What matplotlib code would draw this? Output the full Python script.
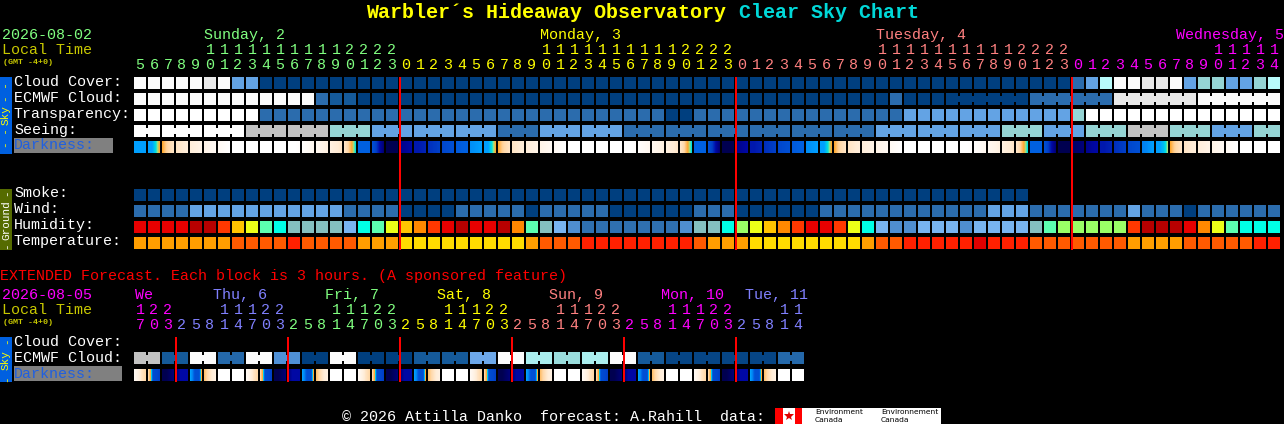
import numpy as np
import matplotlib
matplotlib.use("Agg")
import matplotlib.pyplot as plt
from matplotlib.colors import LinearSegmentedColormap

# ---------- data ----------
title_a = "Warbler\u00b4s Hideaway Observatory"
title_b = "Clear Sky Chart"

hours_main = [5,6,7,8,9,10,11,12,13,14,15,16,17,18,19,20,21,22,23,
              0,1,2,3,4,5,6,7,8,9,10,11,12,13,14,15,16,17,18,19,20,21,22,23,
              0,1,2,3,4,5,6,7,8,9,10,11,12,13,14,15,16,17,18,19,20,21,22,23,
              0,1,2,3,4,5,6,7,8,9,10,11,12,13,14]
hours_main_day = ("AAAAAAAAAA" "AAAAAAAAAB" "BBBBBBBBBB" "BBBBBBBBBB" "BBBCCCCCCC"
                  "CCCCCCCCCC" "CCCCCCCDDD" "DDDDDDDDDD" "DD")

hours_ext = [17,20,23,2,5,8,11,14,17,20,23,2,5,8,11,14,17,20,23,2,5,8,11,14,
             17,20,23,2,5,8,11,14,17,20,23,2,5,8,11,14,17,20,23,2,5,8,11,14]
hours_ext_day = ("DDDEEEEEEE" "EFFFFFFFFG" "GGGGGGGCCC" "CCCCCDDDDD" "DDDEEEEE")

cloud_cover = list("WWWWWGWLLD" "DDDDDDDDDD" "DDDDDDDDDD" "DDDDDDDDDD" "DDDDDDDDDD"
                   "DDDDDDDDDD" "DDDDDDDMLP" "WWGGWLTTLL" "TP")
ecmwf_cloud = list("WWWWWWWWWW" "WWWMNNDDDD" "DDDDDDDDDD" "DDDDDDDDDD" "DDDDDDDDDD"
                   "DDDDMDDDDD" "DDDDMMMMMM" "GGGGGGWWWW" "WW")
ecmwf_groups = [1] * 58 + [6, 6, 6, 6]
transparency = list("VVVVVVVVVM" "MMMMMMMMMM" "MMMMMMMMMM" "MMMMMMMMDD" "MMMMMMMMMM"
                    "MMMMMLLLLL" "LLLLLLLTVV" "VVVVVVVVVV" "VV")
seeing = list("VVVVVVVVYY" "YYYYTTTLLL" "LLLLLLMMML" "LLLLLMMMMM" "MMMMMMMMMM"
              "MMMLLLLLLL" "LLTTTLLLTT" "TYYYTTTLLL" "TT")
seeing_groups = [2] + [3] * 26 + [2]

# darkness: readings across each block, on the scale of dark_colors
darkness = [
 (6,6,6,6),(6,6,5,4),(4,3.2,2.8,2.4),(2.4,2.2,2,1.8),(1.8,1.6,1.4,1.2),(1.2,1,.8,.6),(.6,.4,.2,0),
 (0,0,0,0),(0,0,0,0),(0,0,0,0),(0,0,0,0),(0,0,0,.2),(.2,.4,.6,.8),(.8,1,1.2,1.5),(1.5,1.8,2,2.3),
 (2.3,3,4,5),(7,7,7,7),(7.5,8,9,10),(11,11,11,11),(9.6,9.4,9.2,9),(8.7,8.7,8.6,8.5),(8.3,8.2,8.1,8),
 (7.8,7.7,7.6,7.5),(7.2,7.1,7,7),(6.3,6.2,6.1,6),(6,6,5,4),
 (4,3.2,2.8,2.4),(2.4,2.2,2,1.8),(1.8,1.6,1.4,1.2),(1.2,1,.8,.6),(.6,.4,.2,0),
 (0,0,0,0),(0,0,0,0),(0,0,0,0),(0,0,0,0),(0,0,0,.2),(.2,.4,.6,.8),(.8,1,1.2,1.5),(1.5,1.8,2,2.3),
 (2.3,3,4,5),(7,7,7,7),(7.5,8,9,10),(11,11,11,11),(9.6,9.4,9.2,9),(8.7,8.7,8.6,8.5),(8.3,8.2,8.1,8),
 (7.8,7.7,7.6,7.5),(7.2,7.1,7,7),(6.3,6.2,6.1,6),(6,6,5,4),
 (4,3.2,2.8,2.4),(2.4,2.2,2,1.8),(1.8,1.6,1.4,1.2),(1.2,1,.8,.6),(.6,.4,.2,0),
 (0,0,0,0),(0,0,0,0),(0,0,0,0),(0,0,0,0),(0,0,0,.2),(.2,.4,.6,.8),(.8,1,1.2,1.5),(1.5,1.8,2,2.3),
 (2.3,3,4,5),(7,7,7,7),(7.5,8,9,10),(11,11,11,11),(10.5,10.3,10.1,10),(9.5,9.3,9.1,9),(8.7,8.7,8.6,8.5),
 (8.3,8.2,8.1,8),(7.8,7.7,7.6,7.5),(6.5,6.4,6.2,6),(6,6,5.5,4.5),(4,3.2,2.8,2.4),(2.4,2.2,2,1.8),
 (1.8,1.6,1.4,1.2),(1.2,1,.8,.6),(.6,.4,.2,0),(0,0,0,0),(0,0,0,0),(0,0,0,0),
]

smoke = list("DDDDDDDDDD" "DDDDDDDDDD" "DDDDDDDDDD" "DDDDDDDDDD" "DDDDDDDDDD"
             "DDDDDDDDDD" "DDDD")
wind = list("MMMMLLLLLL" "LLLLLMMMMD" "DDDMMMMMDM" "MMMMDDDDDD" "MMMDDDDDDM"
            "MMMMMMMMMM" "MLLLMMMMMM" "MLMMMDMMMM" "MM")
humidity = list("rrrrddoaym" "cttttscmya" "nordrrdnmt" "sbiiiiiiib" "ttclyanorr"
                "oycsbbsssb" "sssstmllll" "loddd" "rnymc" "cc")
temperature = list("aaaaaaaddd" "dfddddaaay" "yyyyyyyyad" "ddffffffff" "daaayyyyyy"
                   "yyaddfffff" "rfffdddddd" "daaaaddddd" "ff")

ext_ecmwf = list("YNWEWXDWDD" "NNSWPQPWNJ" "JJJE")
ext_darkness = [
 (.6,1.4,2.4,3),(3,4,7.6,7.7,7.8,8),(11,11,10.5,10),(10,9,9,9),(6,6.5,7.5,7.5,7.5,4),(3.5,2.8,2,1.5),(0,0,0,0),(0,0,0,0),
 (.6,1.4,2.4,3),(3,4,7.6,7.7,7.8,8),(11,11,10.5,10),(10,9,9,9),(6,6.5,7.5,7.5,7.5,4),(3.5,2.8,2,1.5),(0,0,0,0),(0,0,0,0),
 (.6,1.4,2.4,3),(3,4,7.6,7.7,7.8,8),(11,11,10.5,10),(10,9,9,9),(6,6.5,7.5,7.5,7.5,4),(3.5,2.8,2,1.5),(0,0,0,0),(0,0,0,0),
 (.6,1.4,2.4,3),(3,4,7.6,7.7,7.8,8),(11,11,10.5,10),(10,9,9,9),(6,6.5,7.5,7.5,7.5,4),(3.5,2.8,2,1.5),(0,0,0,0),(0,0,0,0),
 (.6,1.4,2.4,3),(3,4,7.6,7.7,7.8,8),(11,11,10.5,10),(10,9,9,9),(6,6.5,7.5,7.5,7.5,4),(3.5,2.8,2,1.5),(0,0,0,0),(0,0,0,0),
 (.6,1.4,2.4,3),(3,4,7.6,7.7,7.8,8),(11,11,10.5,10),(10,9,9,9),(6,6.5,7.5,7.5,7.5,4),(3.5,2.8,2,1.5),(0,0,0,0),(0,0,0,0),
]

main_red_cols = [19, 43, 67]
ext_red_cols = [3, 11, 19, 27, 35, 43]

# ---------- styles ----------
sky_colors = {"W": "#fbfbfb", "G": "#e8e8e8", "Y": "#c2c2c2", "T": "#95d4d4", "P": "#b8fbfb",
              "L": "#63a3e4", "M": "#2b6cad", "N": "#155a9a", "D": "#003f7f", "J": "#064585",
              "E": "#2468aa", "X": "#4f90d6", "S": "#6da8ea", "Q": "#99dcdc", "V": "#ffffff"}
ext_colors = dict(sky_colors, P="#aaeeee")
hum_colors = {"r": "#e80000", "d": "#b80000", "o": "#ff3800", "n": "#ff8800", "a": "#ffc400",
              "y": "#ecff18", "m": "#5cffb0", "c": "#00ffe6", "t": "#84bfbf", "s": "#78b4f0",
              "b": "#4f8ed0", "i": "#2f70b0", "l": "#9aff66"}
tmp_colors = {"a": "#ff9e00", "d": "#ff5a00", "f": "#ff2000", "r": "#e00000", "y": "#ffdc00"}
dark_colors = [(0, "#ffffff"), (1, "#fff6ec"), (2, "#ffecd6"), (3, "#ffd8a8"), (4, "#ffa830"),
               (4.5, "#a0e080"), (5, "#00e0e0"), (6, "#00a0ff"), (7, "#0060e0"), (8, "#0040c8"),
               (9, "#0008a4"), (10, "#000078"), (11, "#000050")]
dark_cmap = LinearSegmentedColormap.from_list("dark", [(v / 11, c) for v, c in dark_colors], N=512)
day_colors = {"A": "#80ff80", "B": "#ffff00", "C": "#ff8080", "D": "#ff00ff",
              "E": "#8080ff", "F": "#80ff80", "G": "#ffff00"}

X0, PITCH, CELL = 134, 14, 12
FONT = ["Liberation Mono", "DejaVu Sans Mono"]

fig = plt.figure(figsize=(12.84, 4.24), dpi=100, facecolor="black")
ax = fig.add_axes([0, 0, 1, 1], facecolor="black")
ax.set_axis_off()


def px(n):
    return n * 72 / 100


def txt(x, y, s, color="white", size=15, **kw):
    kw.setdefault("ha", "left")
    kw.setdefault("va", "baseline")
    ax.text(x, y, s, color=color, fontsize=px(size), family=FONT, zorder=3, **kw)


def rect(x, y, w, h, color, zorder=2):
    ax.bar(x, h, width=w, bottom=y, align="edge", color=color, linewidth=0,
           snap=False, zorder=zorder)


def draw_row(values, y, palette, groups=None):
    groups = groups or [1] * len(values)
    i = 0
    for g in groups:
        for j in range(i, min(i + g, len(values))):
            x = X0 + PITCH * j
            rect(x, y, CELL, CELL, palette[values[j]])
            if j < i + g - 1 and j + 1 < len(values):
                rect(x + CELL, y + 3, PITCH - CELL, CELL - 6, palette[values[j]])
        i += g


def draw_dark(values, y):
    for j, v in enumerate(values):
        x = X0 + PITCH * j
        line = np.interp(np.linspace(0, 1, CELL), np.linspace(0, 1, len(v)), v)
        ax.imshow(line[None, :], extent=(x, x + CELL, y + CELL, y), cmap=dark_cmap,
                  vmin=0, vmax=11, aspect="auto", interpolation="nearest", zorder=2)


# title
txt(366, 18, title_a, "#ffff00", 20, fontweight="bold")
txt(739, 18, title_b, "#00d8d8", 20, fontweight="bold")

# main header
txt(2, 39, "2026-08-02", day_colors["A"])
txt(2, 54, "Local Time", "#c8c800")
txt(3, 64, "(GMT -4+0)", "#c8c800", 8.4, fontweight="bold")
txt(204, 39, "Sunday, 2", day_colors["A"])
txt(540, 39, "Monday, 3", day_colors["B"])
txt(876, 39, "Tuesday, 4", day_colors["C"])
txt(1176, 39, "Wednesday, 5", day_colors["D"])
for i, (h, d) in enumerate(zip(hours_main, hours_main_day)):
    cx = X0 + PITCH * i + CELL / 2
    if h >= 10:
        txt(cx, 54, str(h // 10), day_colors[d], ha="center")
    txt(cx, 69, str(h % 10), day_colors[d], ha="center")

# side strips and labels
rect(0, 77, 12, 77, "#0060e0")
txt(6, 115, "Sky", "#ffff00", 11, rotation=90, ha="center", va="center")
txt(6, 92, "- -", "#ffff00", 11, rotation=90, ha="center", va="center")
txt(6, 138, "- -", "#ffff00", 11, rotation=90, ha="center", va="center")
rect(0, 189, 12, 61, "#556b00")
txt(6, 220, "Ground", "white", 11, rotation=90, ha="center", va="center")
txt(6, 193, "-", "white", 11, rotation=90, ha="center", va="center")
txt(6, 246, "-", "white", 11, rotation=90, ha="center", va="center")

for y, s in zip([86, 102, 118, 134], ["Cloud Cover:", "ECMWF Cloud:", "Transparency:", "Seeing:"]):
    txt(14, y, s)
rect(14, 138, 99, 15, "#808080")
txt(14, 149, "Darkness:", "#2060e0")
for y, s in zip([197, 213, 229, 245], ["Smoke:", "Wind:", "Humidity:", "Temperature:"]):
    txt(14, y, s)

# main rows
draw_row(cloud_cover, 77, sky_colors)
draw_row(ecmwf_cloud, 93, sky_colors, ecmwf_groups)
draw_row(transparency, 109, sky_colors)
draw_row(seeing, 125, sky_colors, seeing_groups)
draw_dark(darkness, 141)
draw_row(smoke, 189, sky_colors)
draw_row(wind, 205, sky_colors)
draw_row(humidity, 221, hum_colors)
draw_row(temperature, 237, tmp_colors)
for c in main_red_cols:
    rect(X0 + PITCH * c - 1, 77, 2, 173, "#ff0000", zorder=4)

# extended part
txt(0, 280, "EXTENDED Forecast. Each block is 3 hours. (A sponsored feature)", "#ff0000")
txt(2, 299, "2026-08-05", day_colors["D"])
txt(2, 314, "Local Time", "#c8c800")
txt(3, 324, "(GMT -4+0)", "#c8c800", 8.4, fontweight="bold")
for x, s, d in zip([135, 213, 325, 437, 549, 661, 745],
                   ["We", "Thu, 6", "Fri, 7", "Sat, 8", "Sun, 9", "Mon, 10", "Tue, 11"],
                   "DEFGCDE"):
    txt(x, 299, s, day_colors[d])
for i, (h, d) in enumerate(zip(hours_ext, hours_ext_day)):
    cx = X0 + PITCH * i + CELL / 2
    if h >= 10:
        txt(cx, 314, str(h // 10), day_colors[d], ha="center")
    txt(cx, 329, str(h % 10), day_colors[d], ha="center")

rect(0, 337, 12, 45, "#0060e0")
txt(6, 360, "Sky", "#ffff00", 11, rotation=90, ha="center", va="center")
txt(6, 341, "-", "#ffff00", 11, rotation=90, ha="center", va="center")
txt(6, 379, "-", "#ffff00", 11, rotation=90, ha="center", va="center")
txt(14, 346, "Cloud Cover:")
txt(14, 362, "ECMWF Cloud:")
rect(14, 366, 108, 15, "#808080")
txt(14, 378, "Darkness:", "#2060e0")

draw_row([v for v in ext_ecmwf for _ in (0, 1)], 352, ext_colors, [2] * len(ext_ecmwf))
draw_dark(ext_darkness, 369)
for c in ext_red_cols:
    rect(X0 + PITCH * c - 1, 337, 2, 45, "#ff0000", zorder=4)

# footer
txt(342, 421, "\u00a9 2026 Attilla Danko  forecast: A.Rahill  data:")
rect(775, 408, 166, 16, "white")
rect(775, 408, 8, 16, "#ff0000")
rect(795, 408, 7, 16, "#ff0000")
ax.plot([789], [416], marker="*", ms=7, color="#e00000", mew=0, zorder=3)
for x, s in zip([815, 881], ["Environment", "Environnement"]):
    ax.text(x, 412, s, color="black", fontsize=px(7.5), va="center", ha="left",
            family="DejaVu Sans", zorder=3)
    ax.text(x, 420, "Canada", color="black", fontsize=px(7.5), va="center", ha="left",
            family="DejaVu Sans", zorder=3)

ax.set_xlim(0, 1284)
ax.set_ylim(424, 0)
fig.savefig("out.png", dpi=100, facecolor="black")
